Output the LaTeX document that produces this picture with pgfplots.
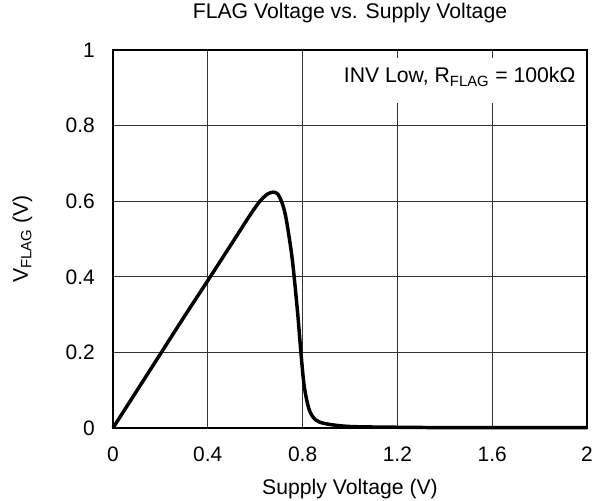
\documentclass[border=0pt]{standalone}
\usepackage{pgfplots}
\pgfplotsset{compat=1.18}
\usepackage{fontspec}
\setmainfont{Liberation Sans}
\begin{document}
\begin{tikzpicture}
\begin{axis}[
  scale only axis,
  width=355.5pt, height=283.5pt,
  xmin=0, xmax=2, ymin=0, ymax=1,
  xtick={0,0.4,...,2.01}, ytick={0,0.2,...,1.01},
  xticklabels={0,0.4,0.8,1.2,1.6,2},
  yticklabels={0,0.2,0.4,0.6,0.8,1},
  major tick length=0pt,
  grid=major,
  grid style={black!80, line width=0.75pt},
  axis line style={black, line width=2pt},
  tick label style={font=\fontsize{15.7}{18}\selectfont, inner sep=0pt},
  /pgf/number format/assume math mode=true,
  xticklabel style={anchor=north, yshift=-14pt},
  yticklabel style={anchor=east, xshift=-13.5pt},
  label style={font=\fontsize{15.9}{18}\selectfont, inner sep=0pt},
  xlabel={Supply Voltage (V)},
  ylabel={V\textsubscript{FLAG} (V)},
  xlabel style={at={([yshift=-49.5pt]axis description cs:0.5,0)}, anchor=base},
  ylabel style={at={([xshift=-63.75pt]axis description cs:0,0.5)}, anchor=base, rotate=0},
  title={FLAG Voltage vs. Supply Voltage},
  title style={font=\fontsize{15.9}{18}\selectfont, inner sep=0pt, at={([yshift=17.5pt]axis description cs:0.5,1)}, anchor=base},
  clip=false,
]
\addplot[black, line width=2.6pt, smooth, tension=0.5, line join=round] coordinates {
(0,0) (0.1,0.098) (0.2,0.196) (0.3,0.294) (0.4,0.39) (0.5,0.487) (0.58,0.565)
(0.62,0.600) (0.65,0.618) (0.675,0.624) (0.695,0.619) (0.712,0.598) (0.727,0.565) (0.742,0.51) (0.758,0.438)
(0.779,0.305) (0.793,0.199) (0.807,0.11) (0.828,0.048) (0.856,0.021) (0.9,0.011)
(1.0,0.004) (1.2,0.002) (1.4,0.001) (1.6,0.001) (2,0.001)
};
\node[anchor=base east, fill=white, inner xsep=4pt, inner ysep=0pt, text height=18.5pt, text depth=15.2pt, font=\fontsize{15.9}{18}\selectfont] at (rel axis cs:0.9873,0.9135) {INV Low, R\textsubscript{FLAG} = 100kΩ};
\coordinate (ll) at (rel axis cs:0,0);
\coordinate (ur) at (rel axis cs:1,1);
\end{axis}
\path ([shift={(-84.75pt,-54pt)}]ll) rectangle ([shift={(12pt,37.5pt)}]ur);
\end{tikzpicture}
\end{document}
